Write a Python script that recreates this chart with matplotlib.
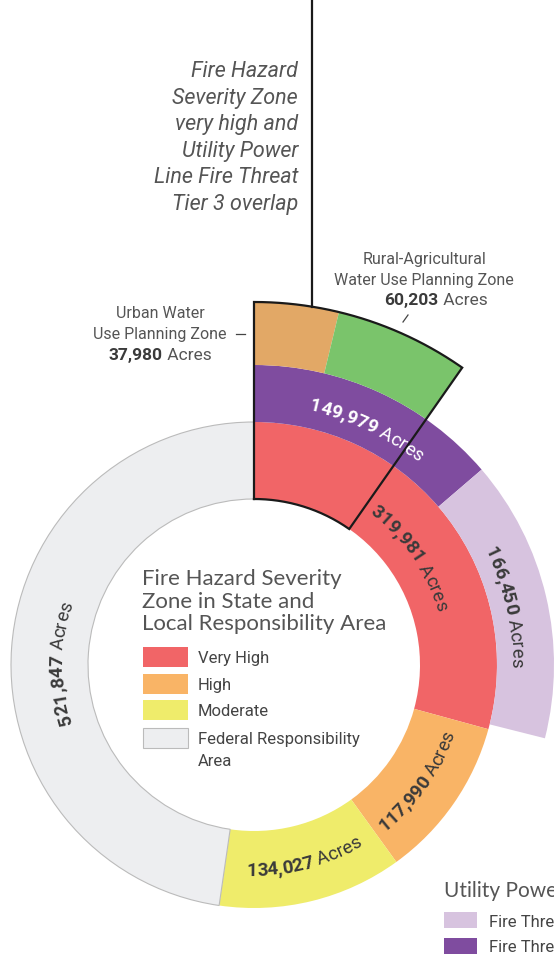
import numpy as np
import matplotlib
matplotlib.use("Agg")
import matplotlib.pyplot as plt
from matplotlib.patches import Wedge, Rectangle
from matplotlib.font_manager import FontProperties, findfont, get_font

# inner ring: fire hazard severity zones (acres)
fhsz_names = ["Very High", "High", "Moderate", "Federal Responsibility\nArea"]
fhsz_acres = [319981, 117990, 134027, 521847]
fhsz_colors = ["#F16567", "#F9B466", "#EFEC6B", "#EDEEF0"]

# middle ring: utility power line fire threat tiers (acres)
tier_names = ["Fire Threat Tier 3", "Fire Threat Tier 2"]
tier_acres = [149979, 166450]
tier_colors = ["#7F4C9F", "#D7C3DF"]

# outer ring: water use planning zones inside the overlap (acres)
zone_names = ["Urban Water\nUse Planning Zone", "Rural-Agricultural\nWater Use Planning Zone"]
zone_acres = [37980, 60203]
zone_colors = ["#E2A866", "#7AC46B"]

DPI = 100
W, H = 554, 955
CX, CY = 254, 665
R_IN, R_MID, R_OUT2, R_OUT3 = 166, 243, 300, 363
OVERLAP_DEG = 35.0   # angular span of the outlined overlap block

fig = plt.figure(figsize=(W / DPI, H / DPI), dpi=DPI)
ax = fig.add_axes([0, 0, 1, 1])
ax.set_xlim(0, W)
ax.set_ylim(H, 0)
ax.axis("off")

deg_per_acre = 360.0 / sum(fhsz_acres)


def ring(values, colors, r0, r1, scale, start=0.0, edge=None):
    a = start
    for v, c in zip(values, colors):
        span = v * scale
        ec = "#BBBBBB" if (edge and c == "#EDEEF0") else "none"
        ax.add_patch(Wedge((CX, CY), r1, a - 90, a + span - 90, width=r1 - r0,
                           facecolor=c, edgecolor=ec, lw=0.8, zorder=2))
        a += span


ring(fhsz_acres, fhsz_colors, R_IN, R_MID, deg_per_acre, edge=True)
ring(tier_acres, tier_colors, R_MID, R_OUT2, deg_per_acre)
ring(zone_acres, zone_colors, R_OUT2, R_OUT3, OVERLAP_DEG / sum(zone_acres))


def polar(r, a):
    a = np.radians(a)
    return CX + r * np.sin(a), CY - r * np.cos(a)


# outline of the overlap block
t = np.linspace(0, OVERLAP_DEG, 80)
ox, oy = polar(R_OUT3, t)
ix, iy = polar(R_IN, t[::-1])
bx = np.concatenate([[CX], ox, ix, [CX]])
by = np.concatenate([[CY - R_IN], oy, iy, [CY - R_IN]])
ax.plot(bx, by, color="#1a1a1a", lw=1.6, zorder=5, solid_joinstyle="miter")

# leader line to the top annotation
lx = 312
ax.plot([lx, lx], [0, CY - np.sqrt(R_OUT3 ** 2 - (lx - CX) ** 2)],
        color="#1a1a1a", lw=1.6, zorder=5)


def advances(s, fp):
    font = get_font(findfont(fp))
    font.set_size(fp.get_size_in_points(), DPI)
    return [font.load_char(ord(ch)).linearHoriAdvance / 65536 for ch in s]


def arc_label(parts, r_mid, a_mid, cw=True):
    chars = []
    for txt, fp, col in parts:
        for ch, w in zip(txt, advances(txt, fp)):
            chars.append((ch, w, fp, col))
    size_px = parts[0][1].get_size_in_points() * DPI / 72
    cap = 0.71 * size_px
    r = r_mid - cap / 2 if cw else r_mid + cap / 2
    total = sum(c[1] for c in chars)
    span = np.degrees(total / r)
    pos = 0.0
    for ch, w, fp, col in chars:
        d = np.degrees((pos + w / 2) / r)
        if cw:
            a = a_mid - span / 2 + d
            rot = -a
        else:
            a = a_mid + span / 2 - d
            rot = 180 - a
        x, y = polar(r, a)
        ax.text(x, y, ch, fontproperties=fp, color=col, rotation=rot,
                rotation_mode="anchor", ha="center", va="baseline", zorder=6)
        pos += w


num_fp = FontProperties(family="Roboto", weight="bold", size=13.5)
acr_fp = FontProperties(family="Roboto", weight="normal", size=13.5)
dark = "#3a3a3a"


def lab(v, col=dark):
    return [(f"{v:,}", num_fp, col), (" Acres", acr_fp, col)]


arc_label(lab(tier_acres[0], "white"), 267, 25.5, cw=True)
arc_label(lab(fhsz_acres[0]), 197, 55.5, cw=True)
arc_label(lab(tier_acres[1]), 264, 77, cw=True)
arc_label(lab(fhsz_acres[1]), 205, 125.5, cw=False)
arc_label(lab(fhsz_acres[2]), 204, 165.5, cw=False)
arc_label(lab(fhsz_acres[3]), 198, 270.5, cw=True)

# top annotation
gray = "#555555"
top_lines = ["Fire Hazard", "Severity Zone", "very high and", "Utility Power",
             "Line Fire Threat", "Tier 3 overlap"]
for i, s in enumerate(top_lines):
    ax.text(298, 77 + 26.6 * i, s, family="Roboto", style="italic", size=15.5,
            color=gray, ha="right", va="baseline")

# water zone labels
lab_fp = dict(family="Roboto", weight="normal", size=11.5, color="#555555")
for i, s in enumerate(zone_names[0].split("\n")):
    ax.text(160, 318 + 21 * i, s, ha="center", va="baseline", **lab_fp)
ax.plot([236, 245], [334, 334], color="#444444", lw=0.9)
for i, s in enumerate(zone_names[1].split("\n")):
    ax.text(424, 264 + 20.5 * i, s, ha="center", va="baseline", **lab_fp)
ax.plot([403, 408], [322, 315], color="#444444", lw=0.9)


def centered_value(xc, y, v):
    fp_b = FontProperties(family="Roboto", weight="bold", size=12.5)
    fp_l = FontProperties(family="Roboto", weight="normal", size=12.5)
    wb = sum(advances(f"{v:,}", fp_b))
    wl = sum(advances(" Acres", fp_l))
    x0 = xc - (wb + wl) / 2
    ax.text(x0, y, f"{v:,}", fontproperties=fp_b, color="#3a3a3a",
            ha="left", va="baseline")
    ax.text(x0 + wb, y, " Acres", fontproperties=fp_l, color="#555555",
            ha="left", va="baseline")


centered_value(160, 360, zone_acres[0])
centered_value(436, 305, zone_acres[1])

# centre legend
for i, s in enumerate(["Fire Hazard Severity", "Zone in State and",
                       "Local Responsibility Area"]):
    ax.text(142, 585 + 22.7 * i, s, family="Lato", weight="normal", size=16,
            color="#555555", ha="left", va="baseline")
box_y = [647, 674, 700, 728]
for y, name, c in zip(box_y, fhsz_names, fhsz_colors):
    ec = "#BBBBBB" if c == "#EDEEF0" else "none"
    ax.add_patch(Rectangle((142.5, y), 45.5, 19.5, facecolor=c, edgecolor=ec, lw=0.8))
    for j, s in enumerate(name.split("\n")):
        ax.text(198, y + 16 + 22 * j, s, family="Roboto", size=12,
                color="#444444", ha="left", va="baseline")

# utility legend (bottom right, runs off the edge as in the source)
ax.text(444, 897, "Utility Power Line Fire Threat", family="Lato",
        weight="normal", size=15, color="#555555", ha="left", va="baseline")
for y, name, c in zip([912, 937.5], tier_names[::-1], tier_colors[::-1]):
    ax.add_patch(Rectangle((444, y), 33, 16, facecolor=c, edgecolor="none"))
    ax.text(489, y + 14.5, name, family="Roboto", size=12, color="#444444",
            ha="left", va="baseline")

fig.savefig("out.png", dpi=DPI, facecolor="white")
